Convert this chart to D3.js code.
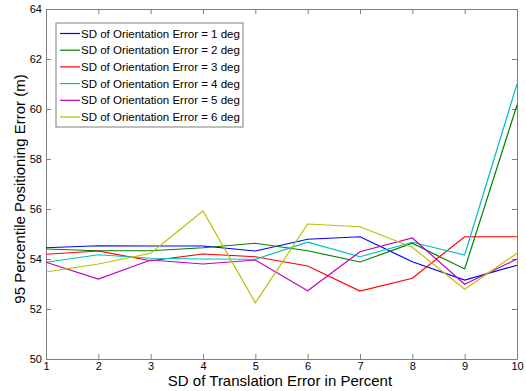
<!DOCTYPE html>
<html lang="en">
<head>
<meta charset="utf-8">
<title>95 Percentile Positioning Error</title>
<style>
body { margin: 0; background: #fff; }
text { font-family: "Liberation Sans", Arial, sans-serif; fill: #000; }
.tick text { font-size: 11px; }
.axis path, .axis line { stroke: #7f7f7f; }
</style>
</head>
<body>
<div id="chart"></div>
<script src="https://d3js.org/d3.v7.min.js"></script>
<script>

// translation error SD (percent)
const xVals = [1, 2, 3, 4, 5, 6, 7, 8, 9, 10];

const seriesNames = [
  "SD of Orientation Error = 1 deg",
  "SD of Orientation Error = 2 deg",
  "SD of Orientation Error = 3 deg",
  "SD of Orientation Error = 4 deg",
  "SD of Orientation Error = 5 deg",
  "SD of Orientation Error = 6 deg"
];

const deg1 = [54.45, 54.53, 54.52, 54.52, 54.32, 54.79, 54.89, 53.89, 53.16, 53.75];
const deg2 = [54.40, 54.33, 54.33, 54.45, 54.63, 54.33, 53.88, 54.63, 53.60, 60.16];
const deg3 = [54.19, 54.32, 53.93, 54.20, 54.09, 53.72, 52.72, 53.23, 54.89, 54.89];
const deg4 = [53.87, 54.17, 54.03, 54.00, 53.99, 54.67, 54.09, 54.67, 54.16, 61.00];
const deg5 = [53.87, 53.20, 53.96, 53.80, 53.96, 52.73, 54.29, 54.84, 52.99, 54.00];
const deg6 = [53.48, 53.80, 54.23, 55.92, 52.25, 55.40, 55.29, 54.47, 52.79, 54.23];

const colors = ["#0000ff", "#008000", "#ff0000", "#00bfbf", "#bf00bf", "#bfbf00"];

const xTicks = [1, 2, 3, 4, 5, 6, 7, 8, 9, 10];
const yTicks = [50, 52, 54, 56, 58, 60, 62, 64];

const width = 526, height = 391;
const margin = { top: 9, right: 9, bottom: 32, left: 46 };

const svg = d3.select("#chart").append("svg")
    .attr("width", width)
    .attr("height", height);

const x = d3.scaleLinear().domain([1, 10]).range([margin.left, width - margin.right]);
const y = d3.scaleLinear().domain([50, 64]).range([height - margin.bottom, margin.top]);

// axes, MATLAB style: ticks inside, box on
svg.append("g").attr("class", "axis")
    .attr("transform", "translate(0," + y(50) + ")")
    .call(d3.axisBottom(x).tickValues(xTicks).tickSizeInner(-5).tickSizeOuter(0).tickPadding(3));
svg.append("g").attr("class", "axis")
    .attr("transform", "translate(0," + y(64) + ")")
    .call(d3.axisTop(x).tickValues(xTicks).tickSizeInner(-5).tickSizeOuter(0).tickFormat(""));
svg.append("g").attr("class", "axis")
    .attr("transform", "translate(" + x(1) + ",0)")
    .call(d3.axisLeft(y).tickValues(yTicks).tickSizeInner(-5).tickSizeOuter(0).tickPadding(4));
svg.append("g").attr("class", "axis")
    .attr("transform", "translate(" + x(10) + ",0)")
    .call(d3.axisRight(y).tickValues(yTicks).tickSizeInner(-5).tickSizeOuter(0).tickFormat(""));

const allSeries = [deg1, deg2, deg3, deg4, deg5, deg6];

const line = d3.line()
    .x(function(d, i) { return x(xVals[i]); })
    .y(function(d) { return y(d); });

svg.append("g").selectAll("path")
    .data(allSeries)
    .enter().append("path")
    .attr("d", line)
    .attr("fill", "none")
    .attr("stroke-width", 1.2)
    .attr("stroke", function(d, i) { return colors[i]; });

// legend
const legend = svg.append("g").attr("transform", "translate(56,23)");
legend.append("rect")
    .attr("width", 187).attr("height", 104)
    .attr("fill", "#fff").attr("stroke", "#7f7f7f");

const entry = legend.selectAll("g.entry")
    .data(seriesNames)
    .enter().append("g")
    .attr("class", "entry")
    .attr("transform", function(d, i) { return "translate(0," + (10.5 + i * 16.7) + ")"; });
entry.append("line")
    .attr("x1", 4).attr("x2", 24)
    .attr("stroke-width", 1.2)
    .attr("stroke", function(d, i) { return colors[i]; });
entry.append("text")
    .attr("x", 25).attr("dy", "0.35em")
    .style("font-size", "11.5px")
    .text(function(d) { return d; });

// axis titles
svg.append("text")
    .attr("x", 280).attr("y", 386)
    .attr("text-anchor", "middle")
    .style("font-size", "15px")
    .text("SD of Translation Error in Percent");
svg.append("text")
    .attr("transform", "translate(25,189) rotate(-90)")
    .attr("text-anchor", "middle")
    .style("font-size", "15px")
    .text("95 Percentile Positioning Error (m)");

</script>
</body>
</html>
